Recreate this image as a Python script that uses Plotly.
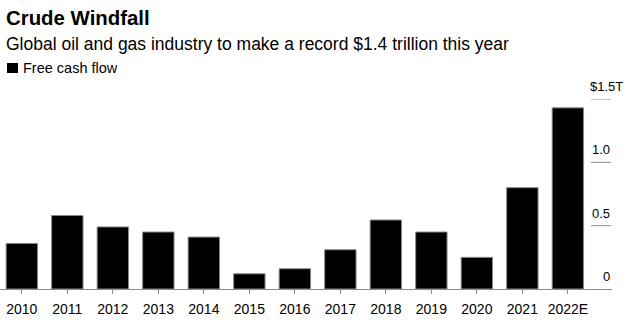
import plotly.graph_objects as go

years = ["2010", "2011", "2012", "2013", "2014", "2015", "2016",
         "2017", "2018", "2019", "2020", "2021", "2022E"]
free_cash_flow = [0.36, 0.58, 0.49, 0.45, 0.41, 0.12, 0.16,
                  0.31, 0.545, 0.45, 0.25, 0.80, 1.43]
y_tick_values = [0, 0.5, 1.0, 1.5]
y_tick_labels = ["0", "0.5", "1.0", "$1.5T"]

W, H = 629, 321
ML, MR, MT, MB = 0, 17, 99, 32
PW = W - ML - MR
PH = H - MT - MB
FONT = "Liberation Sans, Arial, Helvetica, sans-serif"


def px(x):
    return (x - ML) / PW


def py(y):
    return (H - MB - y) / PH


fig = go.Figure()
fig.add_trace(go.Bar(
    x=years, y=free_cash_flow, width=0.69,
    marker=dict(color="#000000", line=dict(color="#8a8a8a", width=1)),
    showlegend=False,
))

annotations = [
    dict(text="<b>Crude Windfall</b>", x=px(4), y=py(17.5), xref="paper", yref="paper",
         xanchor="left", yanchor="middle", showarrow=False,
         font=dict(family=FONT, size=20.4, color="#000")),
    dict(text="Global oil and gas industry to make a record $1.4 trillion this year",
         x=px(4), y=py(44), xref="paper", yref="paper",
         xanchor="left", yanchor="middle", showarrow=False,
         font=dict(family=FONT, size=17.5, color="#000")),
    dict(text="Free cash flow", x=px(21), y=py(68), xref="paper", yref="paper",
         xanchor="left", yanchor="middle", showarrow=False,
         font=dict(family=FONT, size=14.5, color="#000")),
]
shapes = [
    dict(type="rect", xref="paper", yref="paper", x0=px(7), x1=px(18),
         y0=py(73), y1=py(63), fillcolor="#000", line=dict(width=0)),
]
for v, lab in zip(y_tick_values, y_tick_labels):
    if lab.startswith("$"):
        annotations.append(dict(text=lab, x=px(588), y=v, xref="paper", yref="y",
                                xanchor="left", yanchor="bottom", yshift=3, showarrow=False,
                                font=dict(family=FONT, size=13, color="#000")))
    else:
        annotations.append(dict(text=lab, x=px(611.5), y=v, xref="paper", yref="y",
                                xanchor="right", yanchor="bottom", yshift=3, showarrow=False,
                                font=dict(family=FONT, size=13, color="#000")))
    if v != 0:
        shapes.append(dict(type="line", xref="paper", yref="y", x0=px(591), x1=px(611),
                           y0=v, y1=v, line=dict(color="#8a8a8a", width=1)))

fig.update_layout(
    width=W, height=H,
    margin=dict(l=ML, r=MR, t=MT, b=MB, pad=0),
    paper_bgcolor="white", plot_bgcolor="white",
    bargap=0.31,
    annotations=annotations, shapes=shapes,
    xaxis=dict(range=[-0.48, 12.97], showline=True, linecolor="#8a8a8a", linewidth=1,
               ticks="outside", ticklen=4, tickcolor="#8a8a8a", tickwidth=1,
               ticklabelstandoff=3,
               tickfont=dict(family=FONT, size=14, color="#000"), showgrid=False,
               zeroline=False, fixedrange=True),
    yaxis=dict(range=[0, 1.5], showgrid=False, zeroline=False, showticklabels=False,
               showline=False, fixedrange=True),
)

fig.write_html("out.html")
